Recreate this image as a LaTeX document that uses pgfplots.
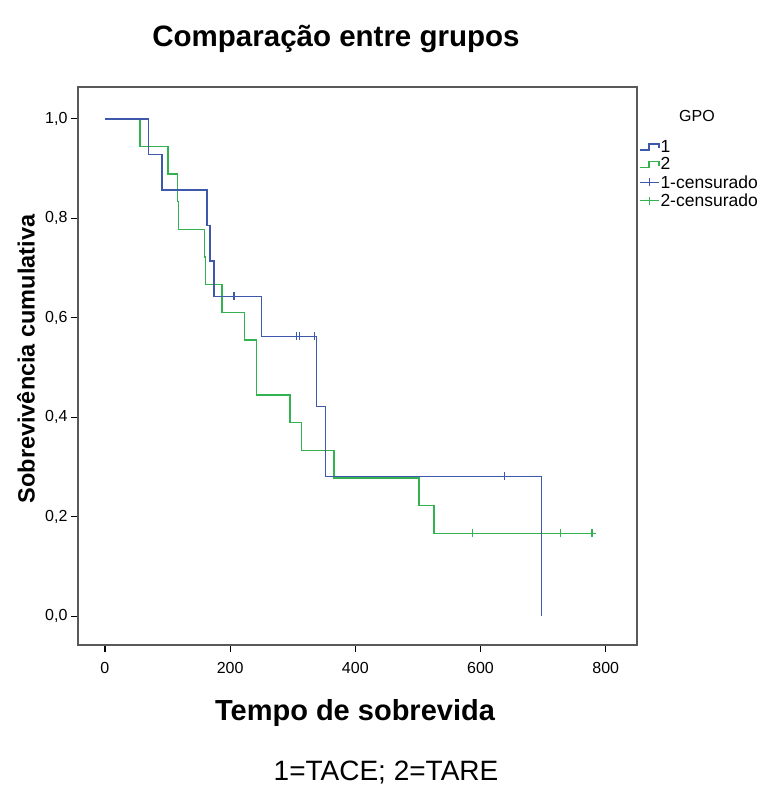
\documentclass[border=0pt]{standalone}
\usepackage{fontspec}
\setmainfont{Liberation Sans}
\usepackage{pgfplots}
\pgfplotsset{compat=1.18}
\definecolor{kmblue}{RGB}{62,88,172}
\definecolor{kmgreen}{RGB}{50,178,80}
\pgfplotsset{
  kmstep/.style={legend image code/.code={\draw[##1] (0bp,-3bp) -- (9bp,-3bp) -- (9bp,3bp) -- (19bp,3bp) -- (19bp,-1bp);}},
  kmcens/.style={legend image code/.code={\draw[##1] (0bp,0bp) -- (19bp,0bp); \draw[##1] (9.5bp,-4bp) -- (9.5bp,4bp);}},
}
\begin{document}
\begin{tikzpicture}[x=1bp,y=1bp]
\useasboundingbox (0,0) rectangle (768,793);
\begin{axis}[
  at={(78bp,148bp)}, anchor=south west,
  width=559bp, height=558bp, scale only axis,
  xmin=-43, xmax=850, ymin=-0.058, ymax=1.064,
  xtick={0,200,400,600,800}, ytick={0,0.2,0.4,0.6,0.8,1},
  xtick pos=bottom, ytick pos=left, tick align=outside,
  major tick length=7bp,
  every tick/.style={black, line width=1.2bp},
  axis line style={black!65, line width=1.5bp},
  /pgf/number format/assume math mode=true,
  y tick label style={/pgf/number format/.cd, fixed, fixed zerofill, precision=1, use comma},
  x tick label style={yshift=-7bp},
  tick label style={font=\fontsize{16bp}{18bp}\selectfont},
  legend style={at={(1,0.906)}, anchor=north west, draw=none, fill=none,
    font=\fontsize{17.5bp}{18bp}\selectfont, inner ysep=0bp, inner xsep=2bp, row sep=3bp,
    nodes={inner ysep=0.5bp, inner xsep=1bp}},
  legend cell align=left,
]
\addlegendimage{kmblue, line width=1.3bp, kmstep}
\addlegendentry{1}
\addlegendimage{kmgreen, line width=1.3bp, kmstep}
\addlegendentry{2}
\addlegendimage{kmblue, line width=1.3bp, kmcens}
\addlegendentry{1-censurado}
\addlegendimage{kmgreen, line width=1.3bp, kmcens}
\addlegendentry{2-censurado}

\addplot[forget plot, const plot, kmgreen, line width=1.4bp] coordinates {
(0,1) (56,0.9444) (101,0.8889) (116,0.8333) (118,0.7778) (159,0.7222) (161,0.6667)
(187,0.6111) (222.5,0.5556) (242,0.4444) (295.5,0.3889) (314,0.3333) (366,0.2778)
(502,0.2222) (525.6,0.1667) (785,0.1667)};
\addplot[forget plot, const plot, kmblue, line width=1.4bp] coordinates {
(0,1) (70,0.9286) (91.5,0.8571) (163,0.7857) (168,0.7143) (174,0.6429)
(250,0.5625) (338,0.4219) (352,0.28125) (697,0)};
\addplot[forget plot, only marks, kmblue, mark=|, mark size=4bp, mark options={line width=1.3bp}] coordinates {
(206,0.6429) (306,0.5625) (311,0.5625) (335,0.5625) (638,0.28125)};
\addplot[forget plot, only marks, kmgreen, mark=|, mark size=4bp, mark options={line width=1.3bp}] coordinates {
(587,0.1667) (728,0.1667) (778,0.1667)};
\end{axis}
\node[font=\fontsize{16bp}{18bp}\selectfont] at (697,677) {GPO};
\node[font=\fontsize{29.5bp}{34bp}\selectfont\bfseries] at (336,754) {Comparação entre grupos};
\node[rotate=90, font=\fontsize{23.5bp}{26bp}\selectfont\bfseries] at (26,434) {Sobrevivência cumulativa};
\node[font=\fontsize{29bp}{34bp}\selectfont\bfseries] at (355,80) {Tempo de sobrevida};
\node[font=\fontsize{28bp}{30bp}\selectfont] at (386,20) {1=TACE; 2=TARE};
\end{tikzpicture}
\end{document}
